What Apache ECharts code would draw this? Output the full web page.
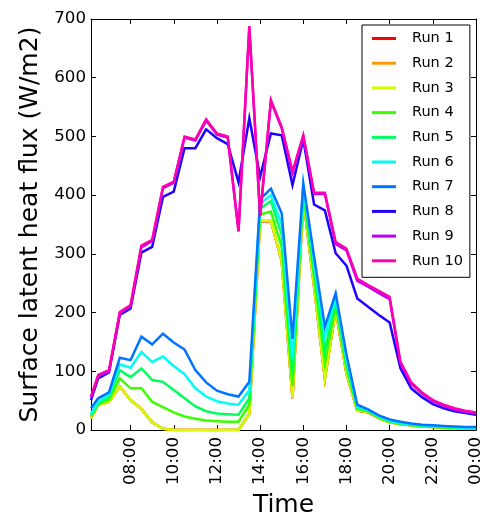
<!DOCTYPE html>
<html>
<head>
<meta charset="utf-8">
<script src="https://cdn.jsdelivr.net/npm/echarts@6/dist/echarts.min.js"></script>
<style>
  html, body { margin: 0; padding: 0; background: #fff; overflow: hidden; }
  #chart { width: 491px; height: 512px; }
</style>
</head>
<body>
<div id="chart"></div>
<script>
// Sample times (local clock); the last one is midnight at the end of the day
const times = ['06:10', '06:30', '07:00', '07:30', '08:00', '08:30', '09:00', '09:30',
  '10:00', '10:30', '11:00', '11:30', '12:00', '12:30', '13:00', '13:30',
  '14:00', '14:30', '15:00', '15:30', '16:00', '16:30', '17:00', '17:30',
  '18:00', '18:30', '19:00', '19:30', '20:00', '20:30', '21:00', '21:30',
  '22:00', '22:30', '23:00', '23:30', '00:00'];

// Surface latent heat flux (W/m2) for each run
const run1 = [20, 43, 48, 74, 51, 36, 13, 2, 0, 0, 0, 0, 0, 0, 0, 28,
  355, 356, 287, 54, 394, 244, 87, 204, 96, 33, 30, 20, 13, 10, 8, 6, 5, 4, 3, 3, 2];
const run2 = [20, 43, 48, 74, 51, 36, 13, 2, 0, 0, 0, 0, 0, 0, 0, 28,
  356, 356, 288, 55, 394, 245, 88, 205, 97, 33, 31, 20, 13, 10, 8, 6, 5, 4, 3, 3, 2];
const run3 = [20, 43, 48, 74, 51, 36, 13, 2, 0, 0, 0, 0, 0, 0, 0, 28,
  356, 357, 288, 55, 395, 245, 88, 205, 97, 33, 31, 20, 13, 10, 8, 6, 5, 4, 3, 3, 2];
const run4 = [23, 44, 52, 88, 71, 71, 48, 39, 30, 23, 19, 16, 15, 14, 14, 43,
  367, 372, 312, 75, 402, 260, 114, 213, 105, 36, 32, 21, 14, 10, 8, 6, 5, 4, 4, 3, 3];
const run5 = [26, 45, 57, 102, 90, 105, 85, 82, 68, 54, 40, 32, 28, 27, 26, 54,
  377, 390, 333, 97, 408, 272, 136, 220, 112, 38, 33, 22, 15, 11, 9, 7, 6, 5, 4, 4, 3];
const run6 = [28, 48, 60, 112, 106, 133, 116, 125, 109, 95, 71, 57, 49, 45, 43, 68,
  385, 400, 350, 120, 414, 285, 159, 226, 120, 40, 34, 23, 16, 12, 10, 8, 7, 6, 5, 4, 4];
const run7 = [37, 54, 64, 123, 119, 159, 146, 164, 149, 137, 102, 81, 67, 61, 57, 82,
  393, 411, 369, 155, 420, 295, 176, 233, 128, 43, 35, 25, 18, 14, 11, 9, 8, 7, 6, 5, 5];
const run8 = [51, 88, 98, 196, 207, 302, 312, 397, 406, 480, 480, 512, 497, 487, 422, 531,
  431, 505, 502, 417, 495, 384, 374, 301, 280, 224, 210, 196, 183, 105, 71, 56, 44, 37, 32, 29, 26];
const run9 = [56, 92, 100, 199, 211, 311, 322, 412, 421, 498, 493, 527, 503, 498, 338, 686,
  364, 560, 514, 438, 500, 402, 402, 317, 306, 254, 244, 233, 223, 113, 79, 62, 49, 41, 35, 31, 28];
const run10 = [57, 94, 102, 201, 213, 314, 324, 414, 423, 500, 495, 529, 505, 500, 339, 688,
  365, 562, 516, 440, 502, 404, 404, 320, 309, 258, 247, 237, 227, 116, 81, 64, 51, 43, 37, 33, 30];

const runNames = ['Run 1', 'Run 2', 'Run 3', 'Run 4', 'Run 5',
  'Run 6', 'Run 7', 'Run 8', 'Run 9', 'Run 10'];
const runValues = [run1, run2, run3, run4, run5, run6, run7, run8, run9, run10];

// Colours sampled along an HSV hue wheel, one per run
const palette = ['#ff0000', '#ff9700', '#d1ff00', '#3aff00', '#00ff5c',
  '#00fff3', '#0074ff', '#2200ff', '#b900ff', '#ff00ae'];

// Clock strings -> hours since midnight, keeping the series increasing past 24:00
const hours = [];
times.forEach((t, i) => {
  const [h, m] = t.split(':').map(Number);
  let v = h + m / 60;
  if (i > 0 && v < hours[i - 1]) v += 24;
  hours.push(v);
});

const FONT = 'DejaVu Sans';
const xMin = hours[0];
const xMax = hours[hours.length - 1];

function clockLabel(v) {
  const r = Math.round(v);
  if (Math.abs(v - r) > 1e-6 || r % 2 !== 0) return '';
  const h = r % 24;
  return (h < 10 ? '0' : '') + h + ':00';
}

const tickStyle = { show: true, inside: true, length: 5, lineStyle: { color: '#000', width: 1 } };
const spine = { show: true, onZero: false, lineStyle: { color: '#000', width: 1 } };

const chart = echarts.init(document.getElementById('chart'), null,
  { renderer: 'canvas', width: 491, height: 512 });

chart.setOption({
  animation: false,
  backgroundColor: '#fff',
  textStyle: { fontFamily: FONT, color: '#000' },
  grid: { left: 91, right: 15, top: 19, bottom: 82, containLabel: false, outerBoundsMode: 'none' },
  legend: {
    orient: 'vertical',
    left: 362,
    top: 25,
    padding: [6, 7, 9, 10],
    backgroundColor: '#fff',
    borderColor: '#000',
    borderWidth: 1,
    borderRadius: 0,
    icon: 'rect',
    itemWidth: 24,
    itemHeight: 3,
    itemGap: 9.7,
    data: runNames,
    textStyle: { fontFamily: FONT, fontSize: 14.5, color: '#000', lineHeight: 14, padding: [0, 0, 0, 11] }
  },
  xAxis: [{
    type: 'value',
    position: 'bottom',
    min: xMin,
    max: xMax,
    splitNumber: 9,
    name: 'Time',
    nameLocation: 'middle',
    nameGap: 54,
    nameTextStyle: { fontFamily: FONT, fontSize: 25, color: '#000' },
    axisLine: spine,
    axisTick: tickStyle,
    splitLine: { show: false },
    axisLabel: {
      rotate: 90, margin: 7, fontFamily: FONT, fontSize: 16.67, color: '#000',
      showMinLabel: false, formatter: clockLabel
    }
  }, {
    type: 'value',
    position: 'top',
    min: xMin,
    max: xMax,
    splitNumber: 9,
    axisLine: spine,
    axisTick: tickStyle,
    splitLine: { show: false },
    axisLabel: { show: false }
  }],
  yAxis: [{
    type: 'value',
    position: 'left',
    min: 0,
    max: 700,
    interval: 100,
    name: 'Surface latent heat flux (W/m2)',
    nameLocation: 'middle',
    nameGap: 46,
    nameTextStyle: { fontFamily: FONT, fontSize: 25, color: '#000' },
    axisLine: spine,
    axisTick: tickStyle,
    splitLine: { show: false },
    axisLabel: { margin: 5, fontFamily: FONT, fontSize: 16.67, color: '#000' }
  }, {
    type: 'value',
    position: 'right',
    min: 0,
    max: 700,
    interval: 100,
    axisLine: spine,
    axisTick: tickStyle,
    splitLine: { show: false },
    axisLabel: { show: false }
  }],
  series: runNames.map((name, i) => ({
    name: name,
    type: 'line',
    xAxisIndex: 0,
    yAxisIndex: 0,
    symbol: 'none',
    showSymbol: false,
    smooth: false,
    color: palette[i],
    lineStyle: { color: palette[i], width: 2.5, join: 'miter' },
    data: hours.map((h, k) => [h, runValues[i][k]])
  }))
});
</script>
</body>
</html>
